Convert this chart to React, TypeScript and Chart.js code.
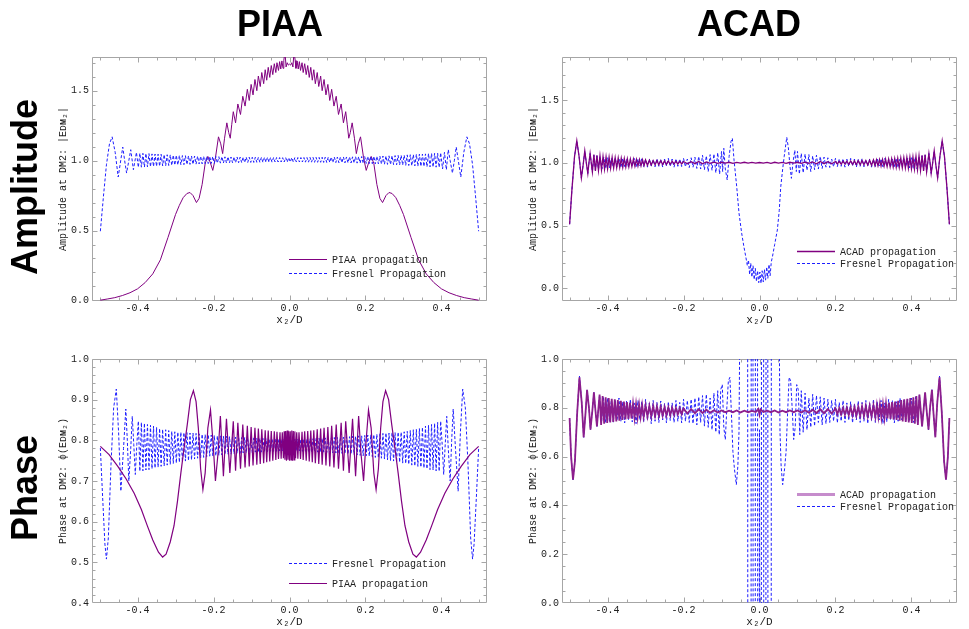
import React, { useEffect, useRef } from 'react';
import { Chart, registerables } from 'chart.js';
Chart.register(...registerables);

type Pt = [number, number];

// ---------- Data (x2/D, value) ----------
const piaaAmpPiaa: Pt[] = [
[-0.498,0.002],[-0.48,0.01],[-0.46,0.02],[-0.44,0.035],[-0.42,0.055],[-0.40,0.083],[-0.38,0.128],[-0.36,0.19],[-0.34,0.29],[-0.32,0.45],[-0.30,0.615],[-0.29,0.68],[-0.28,0.735],[-0.27,0.765],[-0.262,0.772],[-0.254,0.75],[-0.245,0.70],[-0.238,0.73],[-0.23,0.83],[-0.222,0.98],[-0.215,1.03],[-0.209,0.99],[-0.202,0.93],[-0.195,1.02],[-0.187,1.17],[-0.181,1.12],[-0.176,1.05],[-0.171,1.16],[-0.165,1.27],[-0.16,1.2],[-0.156,1.16],[-0.152,1.26],[-0.148,1.35],
[-0.142,1.27],[-0.136,1.405],[-0.129,1.33],[-0.123,1.46],[-0.117,1.39],[-0.111,1.51],[-0.106,1.43],[-0.101,1.545],[-0.096,1.47],[-0.091,1.58],[-0.086,1.50],[-0.082,1.605],[-0.077,1.53],[-0.073,1.63],[-0.068,1.55],[-0.064,1.65],[-0.060,1.575],[-0.056,1.667],[-0.052,1.595],[-0.048,1.68],[-0.044,1.615],[-0.040,1.693],[-0.036,1.63],[-0.033,1.70],[-0.029,1.645],[-0.026,1.708],[-0.023,1.655],[-0.020,1.713],[-0.017,1.66],[-0.015,1.716],[-0.012,1.78],[-0.009,1.67],[-0.006,1.70],[-0.003,1.683],[0,1.69],
[0.003,1.683],[0.006,1.70],[0.009,1.67],[0.012,1.78],[0.015,1.716],[0.017,1.66],[0.020,1.713],[0.023,1.655],[0.026,1.708],[0.029,1.645],[0.033,1.70],[0.036,1.63],[0.040,1.693],[0.044,1.615],[0.048,1.68],[0.052,1.595],[0.056,1.667],[0.060,1.575],[0.064,1.65],[0.068,1.55],[0.073,1.63],[0.077,1.53],[0.082,1.605],[0.086,1.50],[0.091,1.58],[0.096,1.47],[0.101,1.545],[0.106,1.43],[0.111,1.51],[0.117,1.39],[0.123,1.46],[0.129,1.33],[0.136,1.405],[0.142,1.27],
[0.148,1.35],[0.152,1.26],[0.156,1.16],[0.16,1.2],[0.165,1.27],[0.171,1.16],[0.176,1.05],[0.181,1.12],[0.187,1.17],[0.195,1.02],[0.202,0.93],[0.209,0.99],[0.215,1.03],[0.222,0.98],[0.23,0.83],[0.238,0.73],[0.245,0.70],[0.254,0.75],[0.262,0.772],[0.27,0.765],[0.28,0.735],[0.29,0.68],[0.30,0.615],[0.32,0.45],[0.34,0.29],[0.36,0.19],[0.38,0.128],[0.40,0.083],[0.42,0.055],[0.44,0.035],[0.46,0.02],[0.48,0.01],[0.498,0.002]
];

const piaaAmpFresnel: Pt[] = [
[-0.498,0.495],[-0.49,0.74],[-0.482,0.97],[-0.474,1.12],[-0.467,1.17],[-0.459,1.06],[-0.451,0.883],[-0.445,0.99],[-0.439,1.097],[-0.434,1.0],[-0.429,0.911],[-0.423,1.0],[-0.418,1.078],[-0.411,0.935],[-0.403,1.059],
[-0.398,0.952],[-0.394,1.053],[-0.390,0.953],[-0.386,1.052],[-0.382,0.954],[-0.378,1.051],[-0.374,0.955],[-0.370,1.05],[-0.366,0.956],[-0.362,1.048],[-0.358,0.958],[-0.354,1.047],[-0.350,0.959],[-0.346,1.046],[-0.342,0.96],[-0.338,1.045],[-0.334,0.962],[-0.330,1.043],[-0.326,0.963],[-0.322,1.042],[-0.318,0.965],[-0.314,1.041],[-0.310,0.966],[-0.306,1.039],[-0.302,0.968],[-0.298,1.038],[-0.294,0.969],[-0.290,1.037],[-0.286,0.97],[-0.282,1.036],[-0.278,0.971],[-0.274,1.035],[-0.270,0.972],[-0.266,1.034],[-0.262,0.973],[-0.258,1.033],[-0.254,0.974],[-0.250,1.033],[-0.246,0.975],[-0.242,1.032],[-0.238,0.976],[-0.234,1.031],[-0.230,0.977],[-0.226,1.031],[-0.222,0.978],[-0.218,1.03],[-0.214,0.979],[-0.210,1.03],[-0.206,0.98],[-0.202,1.029],[-0.198,0.981],[-0.194,1.029],[-0.190,0.982],[-0.186,1.028],[-0.182,0.982],[-0.178,1.028],[-0.174,0.983],[-0.170,1.027],[-0.166,0.983],[-0.162,1.027],[-0.158,0.984],[-0.154,1.026],[-0.150,0.984],[-0.146,1.026],[-0.142,0.985],[-0.138,1.026],[-0.134,0.985],[-0.130,1.025],[-0.126,0.986],[-0.122,1.025],[-0.118,0.986],[-0.114,1.025],[-0.110,0.987],[-0.106,1.024],[-0.102,0.987],[-0.098,1.024],[-0.094,0.987],[-0.090,1.024],[-0.086,0.988],[-0.082,1.023],[-0.078,0.988],[-0.074,1.023],[-0.070,0.988],[-0.066,1.023],[-0.062,0.989],[-0.058,1.023],[-0.054,0.989],[-0.050,1.022],[-0.046,0.989],[-0.042,1.022],[-0.038,0.99],[-0.034,1.022],[-0.030,0.99],[-0.026,1.022],[-0.022,0.99],[-0.018,1.021],[-0.014,0.99],[-0.010,1.021],[-0.006,0.99],[-0.002,1.021],
[0.002,0.99],[0.006,1.021],[0.010,0.99],[0.014,1.021],[0.018,0.99],[0.022,1.022],[0.026,0.99],[0.030,1.022],[0.034,0.99],[0.038,1.022],[0.042,0.989],[0.046,1.022],[0.050,0.989],[0.054,1.023],[0.058,0.989],[0.062,1.023],[0.066,0.988],[0.070,1.023],[0.074,0.988],[0.078,1.023],[0.082,0.988],[0.086,1.024],[0.090,0.987],[0.094,1.024],[0.098,0.987],[0.102,1.024],[0.106,0.987],[0.110,1.025],[0.114,0.986],[0.118,1.025],[0.122,0.986],[0.126,1.025],[0.130,0.985],[0.134,1.026],[0.138,0.985],[0.142,1.026],[0.146,0.984],[0.150,1.026],[0.154,0.984],[0.158,1.027],[0.162,0.983],[0.166,1.027],[0.170,0.983],[0.174,1.028],[0.178,0.982],[0.182,1.028],[0.186,0.982],[0.190,1.029],[0.194,0.981],[0.198,1.029],[0.202,0.98],[0.206,1.03],[0.210,0.979],[0.214,1.03],[0.218,0.978],[0.222,1.031],[0.226,0.977],[0.230,1.031],[0.234,0.976],[0.238,1.032],[0.242,0.975],[0.246,1.033],[0.250,0.974],[0.254,1.033],[0.258,0.973],[0.262,1.034],[0.266,0.972],[0.270,1.035],[0.274,0.971],[0.278,1.036],[0.282,0.97],[0.286,1.037],[0.290,0.969],[0.294,1.038],[0.298,0.968],[0.302,1.039],[0.306,0.966],[0.310,1.041],[0.314,0.965],[0.318,1.042],[0.322,0.963],[0.326,1.043],[0.330,0.962],[0.334,1.045],[0.338,0.96],[0.342,1.046],[0.346,0.959],[0.350,1.047],[0.354,0.958],[0.358,1.048],[0.362,0.956],[0.366,1.05],[0.370,0.955],[0.374,1.051],[0.378,0.954],[0.382,1.052],[0.386,0.953],[0.390,1.053],[0.394,0.952],
[0.398,1.056],[0.403,0.94],[0.408,1.059],[0.413,0.935],[0.418,1.078],[0.423,1.0],[0.429,0.911],[0.434,1.0],[0.439,1.097],[0.445,0.99],[0.451,0.883],[0.459,1.06],[0.467,1.17],[0.474,1.12],[0.482,0.97],[0.49,0.74],[0.498,0.495]
];

const acadAmpAcad: Pt[] = [
[-0.5,0.51],[-0.494,0.78],[-0.487,1.05],[-0.481,1.175],[-0.475,1.05],[-0.469,0.88],[-0.464,0.99],[-0.46,1.095],[-0.456,1.0],[-0.452,0.915],[-0.449,1.0],[-0.446,1.074],[-0.443,1.0],[-0.44,0.928],[-0.436,1.065],[-0.432,0.935],[-0.428,1.06],[-0.424,0.94],[-0.42,1.055],[-0.416,0.945],[-0.412,1.05],[-0.408,0.95],[-0.404,1.047],[-0.40,0.953],[-0.396,1.045],[-0.392,0.956],[-0.388,1.043],[-0.384,0.958],[-0.38,1.04],[-0.376,0.96],[-0.372,1.038],[-0.368,0.962],[-0.364,1.036],[-0.36,0.964],[-0.356,1.034],[-0.352,0.966],[-0.348,1.032],[-0.344,0.968],[-0.34,1.03],[-0.336,0.97],[-0.332,1.029],[-0.328,0.972],[-0.324,1.027],[-0.32,0.974],[-0.316,1.025],[-0.312,0.976],[-0.308,1.024],[-0.304,0.978],[-0.30,1.022],[-0.295,0.98],[-0.29,1.02],[-0.285,0.982],[-0.28,1.018],[-0.275,0.984],[-0.27,1.017],[-0.265,0.985],[-0.26,1.016],[-0.255,0.986],[-0.25,1.015],[-0.245,0.987],[-0.24,1.014],[-0.235,0.988],[-0.23,1.013],[-0.225,0.989],[-0.22,1.012],[-0.215,0.99],[-0.21,1.011],[-0.205,0.991],[-0.20,1.01],[-0.19,0.992],[-0.18,1.009],[-0.17,0.993],[-0.16,1.01],[-0.15,0.992],[-0.14,1.007],[-0.13,0.995],[-0.12,1.005],[-0.11,0.996],[-0.10,1.004],[-0.09,0.997],[-0.08,1.004],[-0.07,0.996],[-0.06,1.003],[-0.05,0.997],[-0.04,1.004],[-0.03,0.997],[-0.02,1.003],[-0.01,0.998],[0,1.002],
[0.01,0.997],[0.02,1.003],[0.03,0.996],[0.04,1.004],[0.05,0.997],[0.06,1.003],[0.07,0.996],[0.08,1.004],[0.09,0.997],[0.10,1.004],[0.11,0.996],[0.12,1.005],[0.13,0.995],[0.14,1.007],[0.15,0.992],[0.16,1.01],[0.17,0.993],[0.18,1.009],[0.19,0.992],[0.20,1.01],[0.205,0.991],[0.21,1.011],[0.215,0.99],[0.22,1.012],[0.225,0.989],[0.23,1.013],[0.235,0.988],[0.24,1.014],[0.245,0.987],[0.25,1.015],[0.255,0.986],[0.26,1.016],[0.265,0.985],[0.27,1.017],[0.275,0.984],[0.28,1.018],[0.285,0.982],[0.29,1.02],[0.295,0.98],[0.30,1.022],[0.304,0.978],[0.308,1.024],[0.312,0.976],[0.316,1.025],[0.32,0.974],[0.324,1.027],[0.328,0.972],[0.332,1.029],[0.336,0.97],[0.34,1.03],[0.344,0.968],[0.348,1.032],[0.352,0.966],[0.356,1.034],[0.36,0.964],[0.364,1.036],[0.368,0.962],[0.372,1.038],[0.376,0.96],[0.38,1.04],[0.384,0.958],[0.388,1.043],[0.392,0.956],[0.396,1.045],[0.40,0.953],[0.404,1.047],[0.408,0.95],[0.412,1.05],[0.416,0.945],[0.42,1.055],[0.424,0.94],[0.428,1.06],[0.432,0.935],[0.436,1.065],[0.44,0.928],[0.443,1.0],[0.446,1.074],[0.449,1.0],[0.452,0.915],[0.456,1.0],[0.46,1.095],[0.464,0.99],[0.469,0.88],[0.475,1.05],[0.481,1.175],[0.487,1.05],[0.494,0.78],[0.5,0.51]
];

const acadAmpFresnel: Pt[] = [
[-0.5,0.51],[-0.494,0.78],[-0.487,1.05],[-0.481,1.175],[-0.475,1.05],[-0.469,0.88],[-0.464,0.99],[-0.46,1.095],[-0.456,1.0],[-0.452,0.915],[-0.449,1.0],[-0.446,1.074],[-0.443,1.0],[-0.44,0.928],[-0.436,1.06],[-0.432,0.94],[-0.428,1.055],[-0.424,0.945],[-0.42,1.05],[-0.415,0.95],[-0.41,1.045],[-0.405,0.955],[-0.40,1.04],[-0.395,0.96],[-0.39,1.035],[-0.385,0.965],[-0.38,1.04],[-0.375,0.97],[-0.37,1.03],[-0.365,0.962],[-0.36,1.035],[-0.355,0.97],[-0.35,1.03],[-0.345,0.965],[-0.34,1.028],[-0.335,0.972],[-0.33,1.035],[-0.325,0.968],[-0.32,1.03],[-0.315,0.975],[-0.31,1.032],[-0.305,0.97],[-0.30,1.028],[-0.295,0.965],[-0.29,1.03],[-0.285,0.975],[-0.28,1.025],[-0.275,0.968],[-0.27,1.033],[-0.265,0.972],[-0.26,1.028],[-0.255,0.966],[-0.25,1.03],[-0.245,0.975],[-0.24,1.035],[-0.235,0.97],[-0.23,1.03],[-0.225,0.965],[-0.22,1.032],[-0.215,0.972],[-0.21,1.03],[-0.205,0.97],[-0.20,1.035],[-0.195,0.968],[-0.19,1.03],[-0.185,0.962],[-0.18,1.04],[-0.175,0.965],[-0.17,1.045],[-0.165,0.955],[-0.16,1.05],[-0.155,0.95],[-0.15,1.06],[-0.145,0.945],[-0.14,1.055],[-0.135,0.93],[-0.13,1.065],[-0.125,0.94],[-0.12,1.07],[-0.115,0.92],[-0.11,1.08],[-0.105,0.91],[-0.10,1.09],[-0.097,0.93],[-0.094,1.115],[-0.09,0.95],[-0.085,0.863],[-0.08,1.05],[-0.075,1.17],[-0.0715,1.195],[-0.067,1.02],[-0.06,0.81],[-0.054,0.6],[-0.047,0.44],[-0.041,0.33],[-0.036,0.25],[-0.032,0.18],[-0.029,0.225],[-0.026,0.11],[-0.023,0.2],[-0.02,0.09],[-0.017,0.18],[-0.014,0.07],[-0.011,0.16],[-0.008,0.055],[-0.005,0.14],[-0.002,0.045],[0.001,0.13],[0.004,0.04],[0.007,0.14],[0.01,0.05],[0.013,0.15],[0.016,0.065],[0.019,0.17],[0.022,0.08],[0.025,0.19],[0.028,0.1],[0.031,0.21],[0.034,0.25],[0.04,0.35],[0.047,0.465],[0.052,0.62],[0.056,0.81],[0.061,0.95],[0.065,1.05],[0.0718,1.203],[0.076,1.12],[0.08,0.98],[0.084,0.876],[0.088,1.0],[0.093,1.10],[0.097,0.93],[0.1,1.09],[0.105,0.91],[0.11,1.075],
[0.115,0.92],[0.12,1.07],[0.125,0.94],[0.13,1.065],[0.135,0.93],[0.14,1.055],[0.145,0.945],[0.15,1.06],[0.155,0.95],[0.16,1.05],[0.165,0.955],[0.17,1.045],[0.175,0.965],[0.18,1.04],[0.185,0.962],[0.19,1.03],[0.195,0.968],[0.20,1.035],[0.205,0.97],[0.21,1.03],[0.215,0.972],[0.22,1.032],[0.225,0.965],[0.23,1.03],[0.235,0.97],[0.24,1.035],[0.245,0.975],[0.25,1.03],[0.255,0.966],[0.26,1.028],[0.265,0.972],[0.27,1.033],[0.275,0.968],[0.28,1.025],[0.285,0.975],[0.29,1.03],[0.295,0.965],[0.30,1.028],[0.305,0.97],[0.31,1.032],[0.315,0.975],[0.32,1.03],[0.325,0.968],[0.33,1.035],[0.335,0.972],[0.34,1.028],[0.345,0.965],[0.35,1.03],[0.355,0.97],[0.36,1.035],[0.365,0.962],[0.37,1.03],[0.375,0.97],[0.38,1.04],[0.385,0.965],[0.39,1.035],[0.395,0.96],[0.40,1.04],[0.405,0.955],[0.41,1.045],[0.415,0.95],[0.42,1.05],[0.424,0.945],[0.428,1.055],[0.432,0.94],[0.436,1.06],[0.44,0.928],[0.443,1.0],[0.446,1.074],[0.449,1.0],[0.452,0.915],[0.456,1.0],[0.46,1.095],[0.464,0.99],[0.469,0.88],[0.475,1.05],[0.481,1.175],[0.487,1.05],[0.494,0.78],[0.5,0.51]
];

const piaaPhaseFresnel: Pt[] = [
[-0.498,0.781],[-0.492,0.66],[-0.486,0.545],[-0.482,0.508],[-0.477,0.56],[-0.47,0.74],[-0.463,0.88],[-0.456,0.926],[-0.45,0.82],[-0.444,0.675],[-0.437,0.78],[-0.431,0.877],[-0.427,0.8],[-0.423,0.70],[-0.418,0.78],[-0.414,0.859],[-0.41,0.79],[-0.406,0.716],[-0.402,0.79],[-0.398,0.847],
[-0.394,0.724],[-0.390,0.844],[-0.386,0.725],[-0.382,0.842],[-0.378,0.727],[-0.374,0.839],[-0.370,0.728],[-0.366,0.837],[-0.362,0.73],[-0.358,0.835],[-0.354,0.732],[-0.350,0.832],[-0.346,0.734],[-0.342,0.829],[-0.338,0.736],[-0.334,0.827],[-0.330,0.737],[-0.326,0.826],[-0.322,0.739],[-0.318,0.824],[-0.314,0.741],[-0.310,0.822],[-0.306,0.743],[-0.302,0.821],[-0.298,0.744],[-0.294,0.82],[-0.290,0.746],[-0.286,0.82],[-0.282,0.747],[-0.278,0.819],[-0.274,0.749],[-0.270,0.819],[-0.266,0.75],[-0.262,0.818],[-0.258,0.752],[-0.254,0.818],[-0.250,0.754],[-0.246,0.817],[-0.242,0.756],[-0.238,0.816],[-0.234,0.757],[-0.230,0.815],[-0.226,0.758],[-0.222,0.814],[-0.218,0.76],[-0.214,0.814],[-0.210,0.761],[-0.206,0.813],[-0.202,0.762],[-0.198,0.812],[-0.194,0.762],[-0.190,0.811],[-0.186,0.763],[-0.182,0.811],[-0.178,0.764],[-0.174,0.81],[-0.170,0.765],[-0.166,0.81],[-0.162,0.766],[-0.158,0.809],[-0.154,0.766],[-0.150,0.809],[-0.146,0.767],[-0.142,0.808],[-0.138,0.768],[-0.134,0.808],[-0.130,0.768],[-0.126,0.807],[-0.122,0.769],[-0.118,0.807],[-0.114,0.769],[-0.110,0.806],[-0.106,0.77],[-0.102,0.806],[-0.098,0.77],[-0.094,0.806],[-0.090,0.771],[-0.086,0.805],[-0.082,0.771],[-0.078,0.805],[-0.074,0.771],[-0.070,0.805],[-0.066,0.772],[-0.062,0.804],[-0.058,0.772],[-0.054,0.804],[-0.050,0.773],[-0.046,0.804],[-0.042,0.773],[-0.038,0.804],[-0.034,0.773],[-0.030,0.803],[-0.026,0.774],[-0.022,0.803],[-0.018,0.774],[-0.014,0.803],[-0.010,0.775],[-0.006,0.802],[-0.002,0.775],[0,0.802],
[0.002,0.775],[0.006,0.802],[0.010,0.775],[0.014,0.803],[0.018,0.774],[0.022,0.803],[0.026,0.774],[0.030,0.803],[0.034,0.773],[0.038,0.804],[0.042,0.773],[0.046,0.804],[0.050,0.773],[0.054,0.804],[0.058,0.772],[0.062,0.804],[0.066,0.772],[0.070,0.805],[0.074,0.771],[0.078,0.805],[0.082,0.771],[0.086,0.805],[0.090,0.771],[0.094,0.806],[0.098,0.77],[0.102,0.806],[0.106,0.77],[0.110,0.806],[0.114,0.769],[0.118,0.807],[0.122,0.769],[0.126,0.807],[0.130,0.768],[0.134,0.808],[0.138,0.768],[0.142,0.808],[0.146,0.767],[0.150,0.809],[0.154,0.766],[0.158,0.809],[0.162,0.766],[0.166,0.81],[0.170,0.765],[0.174,0.81],[0.178,0.764],[0.182,0.811],[0.186,0.763],[0.190,0.811],[0.194,0.762],[0.198,0.812],[0.202,0.762],[0.206,0.813],[0.210,0.761],[0.214,0.814],[0.218,0.76],[0.222,0.814],[0.226,0.758],[0.230,0.815],[0.234,0.757],[0.238,0.816],[0.242,0.756],[0.246,0.817],[0.250,0.754],[0.254,0.818],[0.258,0.752],[0.262,0.818],[0.266,0.75],[0.270,0.819],[0.274,0.749],[0.278,0.819],[0.282,0.747],[0.286,0.82],[0.290,0.746],[0.294,0.82],[0.298,0.744],[0.302,0.821],[0.306,0.743],[0.310,0.822],[0.314,0.741],[0.318,0.824],[0.322,0.739],[0.326,0.826],[0.330,0.737],[0.334,0.827],[0.338,0.736],[0.342,0.829],[0.346,0.734],[0.350,0.832],[0.354,0.732],[0.358,0.835],[0.362,0.73],[0.366,0.837],[0.370,0.728],[0.374,0.839],[0.378,0.727],[0.382,0.842],[0.386,0.725],[0.390,0.844],[0.394,0.724],
[0.398,0.847],[0.402,0.79],[0.406,0.716],[0.41,0.79],[0.414,0.859],[0.418,0.78],[0.423,0.70],[0.427,0.8],[0.431,0.877],[0.437,0.78],[0.444,0.675],[0.45,0.82],[0.456,0.926],[0.463,0.88],[0.47,0.74],[0.477,0.56],[0.482,0.508],[0.486,0.545],[0.492,0.66],[0.498,0.781]
];

const piaaPhasePiaa: Pt[] = [
[-0.498,0.785],[-0.475,0.765],[-0.452,0.736],[-0.43,0.705],[-0.409,0.67],[-0.39,0.63],[-0.374,0.589],[-0.36,0.555],[-0.345,0.525],[-0.334,0.513],[-0.325,0.52],[-0.314,0.55],[-0.304,0.59],[-0.295,0.65],[-0.286,0.72],[-0.277,0.785],[-0.269,0.84],[-0.261,0.9],[-0.253,0.922],[-0.246,0.895],[-0.24,0.83],[-0.234,0.73],[-0.228,0.679],[-0.222,0.72],[-0.215,0.83],[-0.208,0.875],[-0.201,0.79],[-0.195,0.70],[-0.188,0.77],[-0.182,0.86],[-0.174,0.712],[-0.166,0.853],[-0.157,0.72],[-0.148,0.847],[-0.142,0.725],[-0.136,0.843],[-0.129,0.73],[-0.123,0.839],[-0.117,0.733],[-0.111,0.836],[-0.106,0.736],[-0.101,0.833],[-0.096,0.738],[-0.091,0.831],[-0.086,0.74],[-0.082,0.829],[-0.077,0.742],[-0.073,0.827],[-0.068,0.744],[-0.064,0.825],[-0.06,0.746],[-0.056,0.824],[-0.052,0.748],[-0.048,0.823],[-0.044,0.75],[-0.04,0.822],[-0.036,0.752],[-0.033,0.821],[-0.029,0.754],[-0.025,0.82],[-0.022,0.755],[-0.019,0.82],[-0.016,0.756],[-0.014,0.822],[-0.012,0.752],[-0.010,0.823],[-0.008,0.75],[-0.006,0.824],[-0.004,0.752],[-0.002,0.822],[0,0.75],
[0.002,0.822],[0.004,0.752],[0.006,0.824],[0.008,0.75],[0.010,0.823],[0.012,0.752],[0.014,0.822],[0.016,0.756],[0.019,0.82],[0.022,0.755],[0.025,0.82],[0.029,0.754],[0.033,0.821],[0.036,0.752],[0.04,0.822],[0.044,0.75],[0.048,0.823],[0.052,0.748],[0.056,0.824],[0.06,0.746],[0.064,0.825],[0.068,0.744],[0.073,0.827],[0.077,0.742],[0.082,0.829],[0.086,0.74],[0.091,0.831],[0.096,0.738],[0.101,0.833],[0.106,0.736],[0.111,0.836],[0.117,0.733],[0.123,0.839],[0.129,0.73],[0.136,0.843],[0.142,0.725],[0.148,0.847],[0.157,0.72],[0.166,0.853],[0.174,0.712],[0.182,0.86],[0.188,0.77],[0.195,0.70],[0.201,0.79],[0.208,0.875],[0.215,0.83],[0.222,0.72],[0.228,0.679],[0.234,0.73],[0.24,0.83],[0.246,0.895],[0.253,0.922],[0.261,0.9],[0.269,0.84],[0.277,0.785],[0.286,0.72],[0.295,0.65],[0.304,0.59],[0.314,0.55],[0.325,0.52],[0.334,0.513],[0.345,0.525],[0.36,0.555],[0.374,0.589],[0.39,0.63],[0.409,0.67],[0.43,0.705],[0.452,0.736],[0.475,0.765],[0.498,0.785]
];

const acadPhaseAcad: Pt[] = [
[-0.5,0.758],[-0.496,0.6],[-0.491,0.505],[-0.486,0.58],[-0.48,0.78],[-0.474,0.925],[-0.468,0.82],[-0.463,0.679],[-0.458,0.78],[-0.454,0.874],[-0.449,0.8],[-0.445,0.71],[-0.44,0.79],[-0.436,0.863],[-0.432,0.79],[-0.428,0.724],[-0.424,0.8],[-0.421,0.854],[-0.417,0.73],[-0.413,0.848],[-0.409,0.735],[-0.405,0.843],[-0.401,0.738],[-0.397,0.84],[-0.393,0.74],[-0.389,0.837],[-0.385,0.742],[-0.381,0.835],[-0.377,0.744],[-0.373,0.832],[-0.369,0.747],[-0.365,0.829],[-0.361,0.75],[-0.357,0.826],[-0.353,0.752],[-0.349,0.823],[-0.345,0.754],[-0.341,0.82],[-0.337,0.756],[-0.333,0.817],[-0.329,0.758],[-0.325,0.815],[-0.321,0.76],[-0.317,0.813],[-0.313,0.762],[-0.309,0.811],[-0.305,0.763],[-0.30,0.81],[-0.295,0.764],[-0.29,0.808],[-0.285,0.765],[-0.28,0.807],[-0.275,0.766],[-0.27,0.806],[-0.265,0.767],[-0.26,0.804],[-0.255,0.768],[-0.25,0.803],[-0.245,0.769],[-0.24,0.802],[-0.235,0.77],[-0.23,0.8],[-0.225,0.772],[-0.22,0.799],[-0.215,0.773],[-0.21,0.798],[-0.205,0.774],[-0.20,0.797],[-0.19,0.776],[-0.18,0.795],[-0.17,0.778],[-0.16,0.794],[-0.15,0.779],[-0.14,0.792],[-0.13,0.78],[-0.12,0.79],[-0.11,0.781],[-0.10,0.789],[-0.09,0.782],[-0.08,0.788],[-0.07,0.782],[-0.06,0.789],[-0.05,0.781],[-0.04,0.788],[-0.03,0.782],[-0.02,0.787],[-0.01,0.783],[-0.003,0.795],[0,0.772],[0.003,0.793],
[0.01,0.783],[0.02,0.788],[0.03,0.782],[0.04,0.789],[0.05,0.781],[0.06,0.788],[0.07,0.782],[0.08,0.789],[0.09,0.782],[0.10,0.789],[0.11,0.781],[0.12,0.79],[0.13,0.78],[0.14,0.792],[0.15,0.779],[0.16,0.794],[0.17,0.778],[0.18,0.795],[0.19,0.776],[0.20,0.797],[0.205,0.774],[0.21,0.798],[0.215,0.773],[0.22,0.799],[0.225,0.772],[0.23,0.8],[0.235,0.77],[0.24,0.802],[0.245,0.769],[0.25,0.803],[0.255,0.768],[0.26,0.804],[0.265,0.767],[0.27,0.806],[0.275,0.766],[0.28,0.807],[0.285,0.765],[0.29,0.808],[0.295,0.764],[0.30,0.81],[0.305,0.763],[0.309,0.811],[0.313,0.762],[0.317,0.813],[0.321,0.76],[0.325,0.815],[0.329,0.758],[0.333,0.817],[0.337,0.756],[0.341,0.82],[0.345,0.754],[0.349,0.823],[0.353,0.752],[0.357,0.826],[0.361,0.75],[0.365,0.829],[0.369,0.747],[0.373,0.832],[0.377,0.744],[0.381,0.835],[0.385,0.742],[0.389,0.837],[0.393,0.74],[0.397,0.84],[0.401,0.738],[0.405,0.843],[0.409,0.735],[0.413,0.848],[0.417,0.73],[0.421,0.854],[0.424,0.8],[0.428,0.724],[0.432,0.79],[0.436,0.863],[0.44,0.79],[0.445,0.71],[0.449,0.8],[0.454,0.874],[0.458,0.78],[0.463,0.679],[0.468,0.82],[0.474,0.925],[0.48,0.78],[0.486,0.58],[0.491,0.505],[0.496,0.6],[0.5,0.758]
];

const acadPhaseFresnel: Pt[] = [
[-0.5,0.758],[-0.496,0.6],[-0.491,0.505],[-0.486,0.58],[-0.48,0.78],[-0.474,0.93],[-0.468,0.82],[-0.463,0.679],[-0.458,0.78],[-0.454,0.874],[-0.449,0.8],[-0.445,0.71],[-0.44,0.79],[-0.436,0.863],[-0.432,0.79],[-0.428,0.724],[-0.424,0.8],[-0.421,0.854],[-0.416,0.735],[-0.411,0.845],[-0.406,0.74],[-0.40,0.84],[-0.395,0.745],[-0.39,0.835],[-0.385,0.74],[-0.38,0.83],[-0.375,0.75],[-0.37,0.84],[-0.365,0.745],[-0.36,0.825],[-0.355,0.738],[-0.35,0.83],[-0.345,0.75],[-0.34,0.835],[-0.335,0.742],[-0.33,0.82],[-0.325,0.735],[-0.32,0.83],[-0.315,0.75],[-0.31,0.826],[-0.305,0.74],[-0.30,0.835],[-0.295,0.748],[-0.29,0.82],[-0.285,0.735],[-0.28,0.83],[-0.275,0.745],[-0.27,0.822],[-0.265,0.74],[-0.26,0.828],[-0.255,0.75],[-0.25,0.818],[-0.245,0.738],[-0.24,0.825],[-0.235,0.748],[-0.23,0.82],[-0.225,0.74],[-0.22,0.83],[-0.215,0.745],[-0.21,0.822],[-0.205,0.738],[-0.20,0.835],[-0.195,0.745],[-0.19,0.83],[-0.185,0.74],[-0.18,0.835],[-0.175,0.735],[-0.17,0.84],[-0.165,0.73],[-0.16,0.845],[-0.155,0.74],[-0.15,0.85],[-0.145,0.725],[-0.14,0.855],[-0.135,0.72],[-0.13,0.84],[-0.125,0.71],[-0.12,0.86],[-0.115,0.7],[-0.11,0.87],[-0.106,0.69],[-0.102,0.875],[-0.098,0.895],[-0.094,0.72],[-0.09,0.67],[-0.086,0.8],[-0.082,0.91],[-0.078,0.925],[-0.074,0.78],[-0.07,0.62],[-0.066,0.55],[-0.061,0.485],[-0.057,0.56],[-0.054,0.70],[-0.051,1.3],
[-0.0312,1.3],[-0.0308,-0.3],[-0.0222,-0.3],[-0.0218,1.3],[-0.0172,1.3],[-0.0168,-0.3],[-0.0112,-0.3],[-0.0108,1.3],[-0.0052,1.3],[-0.0048,-0.3],[-0.0008,-0.3],[0,0.71],[0.0008,-0.3],[0.0048,-0.3],[0.0052,1.3],[0.0108,1.3],[0.0112,-0.3],[0.0168,-0.3],[0.0172,1.3],[0.0218,1.3],[0.0222,-0.3],[0.0308,-0.3],[0.0312,1.3],
[0.051,1.3],[0.054,0.70],[0.057,0.56],[0.061,0.485],[0.066,0.55],[0.07,0.62],[0.074,0.78],[0.078,0.925],[0.082,0.91],[0.086,0.8],[0.09,0.67],[0.094,0.72],[0.098,0.895],[0.102,0.875],[0.106,0.69],[0.11,0.87],[0.115,0.7],[0.12,0.86],[0.125,0.71],[0.13,0.84],[0.135,0.72],[0.14,0.855],[0.145,0.725],[0.15,0.85],[0.155,0.74],[0.16,0.845],[0.165,0.73],[0.17,0.84],[0.175,0.735],[0.18,0.835],[0.185,0.74],[0.19,0.83],[0.195,0.745],[0.20,0.835],[0.205,0.738],[0.21,0.822],[0.215,0.745],[0.22,0.83],[0.225,0.74],[0.23,0.82],[0.235,0.748],[0.24,0.825],[0.245,0.738],[0.25,0.818],[0.255,0.75],[0.26,0.828],[0.265,0.74],[0.27,0.822],[0.275,0.745],[0.28,0.83],[0.285,0.735],[0.29,0.82],[0.295,0.748],[0.30,0.835],[0.305,0.74],[0.31,0.826],[0.315,0.75],[0.32,0.83],[0.325,0.735],[0.33,0.82],[0.335,0.742],[0.34,0.835],[0.345,0.75],[0.35,0.83],[0.355,0.738],[0.36,0.825],[0.365,0.745],[0.37,0.84],[0.375,0.75],[0.38,0.83],[0.385,0.74],[0.39,0.835],[0.395,0.745],[0.40,0.84],[0.406,0.74],[0.411,0.845],[0.416,0.735],[0.421,0.854],[0.424,0.8],[0.428,0.724],[0.432,0.79],[0.436,0.863],[0.44,0.79],[0.445,0.71],[0.449,0.8],[0.454,0.874],[0.458,0.78],[0.463,0.679],[0.468,0.82],[0.474,0.93],[0.48,0.78],[0.486,0.58],[0.491,0.505],[0.496,0.6],[0.5,0.758]
];

// ---------- Ticks ----------
const xMajor = [-0.4, -0.2, 0, 0.2, 0.4];
const xMinor = [-0.5, -0.45, -0.35, -0.3, -0.25, -0.15, -0.1, -0.05, 0.05, 0.1, 0.15, 0.25, 0.3, 0.35, 0.45, 0.5];
const ampMajor = [0, 0.5, 1.0, 1.5];
const ampMinorP1 = [0.1, 0.2, 0.3, 0.4, 0.6, 0.7, 0.8, 0.9, 1.1, 1.2, 1.3, 1.4, 1.6, 1.7];
const ampMinorP2 = [-0.1, 0.1, 0.2, 0.3, 0.4, 0.6, 0.7, 0.8, 0.9, 1.1, 1.2, 1.3, 1.4, 1.6, 1.7, 1.8];
const phaseMajorP3 = [0.4, 0.5, 0.6, 0.7, 0.8, 0.9, 1.0];
const phaseMinorP3 = [0.42, 0.44, 0.46, 0.48, 0.52, 0.54, 0.56, 0.58, 0.62, 0.64, 0.66, 0.68, 0.72, 0.74, 0.76, 0.78, 0.82, 0.84, 0.86, 0.88, 0.92, 0.94, 0.96, 0.98];
const phaseMajorP4 = [0, 0.2, 0.4, 0.6, 0.8, 1.0];
const phaseMinorP4 = [0.05, 0.1, 0.15, 0.25, 0.3, 0.35, 0.45, 0.5, 0.55, 0.65, 0.7, 0.75, 0.85, 0.9, 0.95];

const PURPLE = 'rgb(128,0,128)';
const BLUE = 'rgb(30,30,255)';
const MONO = "'Liberation Mono', 'DejaVu Sans Mono', monospace";
const TEXT = '#222';

interface Series { data: Pt[]; color: string; width: number; dash?: number[]; order: number }
interface PanelSpec {
  left: number; top: number; yMin: number; yMax: number;
  yMajor: number[]; yMinor: number[]; yTitle: string; series: Series[];
}

const panels: PanelSpec[] = [
  { left: 52, top: 47, yMin: -0.004, yMax: 1.741, yMajor: ampMajor, yMinor: ampMinorP1,
    yTitle: 'Amplitude at DM2: |Eᴅᴍ₂|',
    series: [
      { data: piaaAmpPiaa, color: PURPLE, width: 1, order: 1 },
      { data: piaaAmpFresnel, color: BLUE, width: 1, dash: [3, 2], order: 0 },
    ] },
  { left: 522, top: 47, yMin: -0.101, yMax: 1.8425, yMajor: ampMajor, yMinor: ampMinorP2,
    yTitle: 'Amplitude at DM2: |Eᴅᴍ₂|',
    series: [
      { data: acadAmpAcad, color: PURPLE, width: 1.3, order: 0 },
      { data: acadAmpFresnel, color: BLUE, width: 1, dash: [3, 2], order: 1 },
    ] },
  { left: 52, top: 349, yMin: 0.4, yMax: 1.0, yMajor: phaseMajorP3, yMinor: phaseMinorP3,
    yTitle: 'Phase at DM2: ϕ(Eᴅᴍ₂)',
    series: [
      { data: piaaPhaseFresnel, color: BLUE, width: 1, dash: [3, 2], order: 1 },
      { data: piaaPhasePiaa, color: PURPLE, width: 1.2, order: 0 },
    ] },
  { left: 522, top: 349, yMin: 0, yMax: 1.0, yMajor: phaseMajorP4, yMinor: phaseMinorP4,
    yTitle: 'Phase at DM2: ϕ(Eᴅᴍ₂)',
    series: [
      { data: acadPhaseAcad, color: 'rgb(140,30,140)', width: 1.8, order: 0 },
      { data: acadPhaseFresnel, color: BLUE, width: 1, dash: [3, 2], order: 1 },
    ] },
];

function makeFrame(spec: PanelSpec) {
  return {
    id: 'frame',
    beforeDatasetsDraw(chart: any) {
      const { ctx, chartArea: a } = chart;
      const xs = chart.scales.x, ys = chart.scales.y;
      const L = Math.round(a.left) + 0.5, R = Math.round(a.right) - 0.5;
      const T = Math.round(a.top) + 0.5, B = Math.round(a.bottom) - 0.5;
      ctx.save();
      ctx.strokeStyle = '#a6a6a6';
      ctx.lineWidth = 1;
      ctx.beginPath();
      ctx.rect(L, T, R - L, B - T);
      const xt = (vals: number[], len: number) => {
        for (const v of vals) {
          const p = Math.round(xs.getPixelForValue(v)) + 0.5;
          if (p < L || p > R) continue;
          ctx.moveTo(p, B); ctx.lineTo(p, B - len);
          ctx.moveTo(p, T); ctx.lineTo(p, T + len);
        }
      };
      const yt = (vals: number[], len: number) => {
        for (const v of vals) {
          const p = Math.round(ys.getPixelForValue(v)) + 0.5;
          if (p < T || p > B) continue;
          ctx.moveTo(L, p); ctx.lineTo(L + len, p);
          ctx.moveTo(R, p); ctx.lineTo(R - len, p);
        }
      };
      xt(xMajor, 5); xt(xMinor, 3);
      yt(spec.yMajor, 5); yt(spec.yMinor, 3);
      ctx.stroke();
      ctx.restore();
    },
  };
}

function Panel({ spec }: { spec: PanelSpec }) {
  const ref = useRef<HTMLCanvasElement>(null);
  useEffect(() => {
    const chart = new Chart(ref.current as HTMLCanvasElement, {
      type: 'line',
      data: {
        datasets: spec.series.map((s) => ({
          data: s.data.map(([x, y]) => ({ x, y })),
          borderColor: s.color,
          borderWidth: s.width,
          borderDash: s.dash || [],
          pointRadius: 0,
          tension: 0,
          fill: false,
          order: s.order,
        })),
      },
      options: {
        responsive: false,
        animation: false,
        events: [],
        layout: { padding: { top: 10, right: 5, left: 0, bottom: 0 } },
        plugins: { legend: { display: false }, tooltip: { enabled: false } },
        scales: {
          x: {
            type: 'linear', min: -0.52, max: 0.52,
            afterFit: (s: any) => { s.height = 36; },
            afterBuildTicks: (s: any) => { s.ticks = xMajor.map((v) => ({ value: v })); },
            grid: { display: false, drawTicks: false },
            border: { display: false },
            ticks: { font: { family: MONO, size: 10 }, color: TEXT, padding: 1, maxRotation: 0, autoSkip: false,
              callback: (v: any) => Number(v).toFixed(1) },
            title: { display: true, text: 'x₂/D', color: TEXT, font: { family: MONO, size: 11 }, padding: { top: 0, bottom: 10 } },
          },
          y: {
            type: 'linear', min: spec.yMin, max: spec.yMax,
            afterFit: (s: any) => { s.width = 40; },
            afterBuildTicks: (s: any) => { s.ticks = spec.yMajor.map((v) => ({ value: v })); },
            grid: { display: false, drawTicks: false },
            border: { display: false },
            ticks: { font: { family: MONO, size: 10 }, color: TEXT, padding: 3, autoSkip: false,
              callback: (v: any) => Number(v).toFixed(1) },
            title: { display: true, text: spec.yTitle, color: TEXT, font: { family: MONO, size: 10 }, padding: { top: 5, bottom: 0 } },
          },
        },
      } as any,
      plugins: [makeFrame(spec)],
    });
    return () => chart.destroy();
  }, [spec]);
  return (
    <canvas ref={ref} width={440} height={290}
      style={{ position: 'absolute', left: spec.left, top: spec.top, width: 440, height: 290 }} />
  );
}

const legendRows = [
  { x: 289, y: 259, label: 'PIAA propagation', color: PURPLE, width: 1, dash: '' },
  { x: 289, y: 273, label: 'Fresnel Propagation', color: BLUE, width: 1, dash: '3 2' },
  { x: 797, y: 251, label: 'ACAD propagation', color: PURPLE, width: 1.3, dash: '' },
  { x: 797, y: 263, label: 'Fresnel Propagation', color: BLUE, width: 1, dash: '3 2' },
  { x: 289, y: 563, label: 'Fresnel Propagation', color: BLUE, width: 1, dash: '3 2' },
  { x: 289, y: 583, label: 'PIAA propagation', color: PURPLE, width: 1, dash: '' },
  { x: 797, y: 494, label: 'ACAD propagation', color: 'rgb(198,140,204)', width: 3, dash: '' },
  { x: 797, y: 506, label: 'Fresnel Propagation', color: BLUE, width: 1, dash: '3 2' },
];

export default function App() {
  return (
    <div style={{ position: 'fixed', left: 0, top: 0, width: 969, height: 629, background: '#fff', overflow: 'hidden' }}>
      {panels.map((p, i) => <Panel key={i} spec={p} />)}
      <svg width={969} height={629} style={{ position: 'absolute', left: 0, top: 0, pointerEvents: 'none' }}>
        <g fontFamily="'Liberation Sans', Arial, sans-serif" fontWeight="bold" fontSize={36} fill="#000">
          <text x={280} y={36} textAnchor="middle">PIAA</text>
          <text x={749} y={36} textAnchor="middle">ACAD</text>
          <text x={37} y={187} textAnchor="middle" transform="rotate(-90 37 187)">Amplitude</text>
          <text x={37} y={488} textAnchor="middle" transform="rotate(-90 37 488)">Phase</text>
        </g>
        {legendRows.map((r, i) => (
          <g key={i}>
            <line x1={r.x} y1={r.y + 0.5} x2={r.x + 38} y2={r.y + 0.5} stroke={r.color} strokeWidth={r.width}
              strokeDasharray={r.dash || undefined} />
            <text x={r.x + 43} y={r.y + 3.5} fontFamily={MONO} fontSize={10} fill={TEXT}>{r.label}</text>
          </g>
        ))}
      </svg>
    </div>
  );
}
